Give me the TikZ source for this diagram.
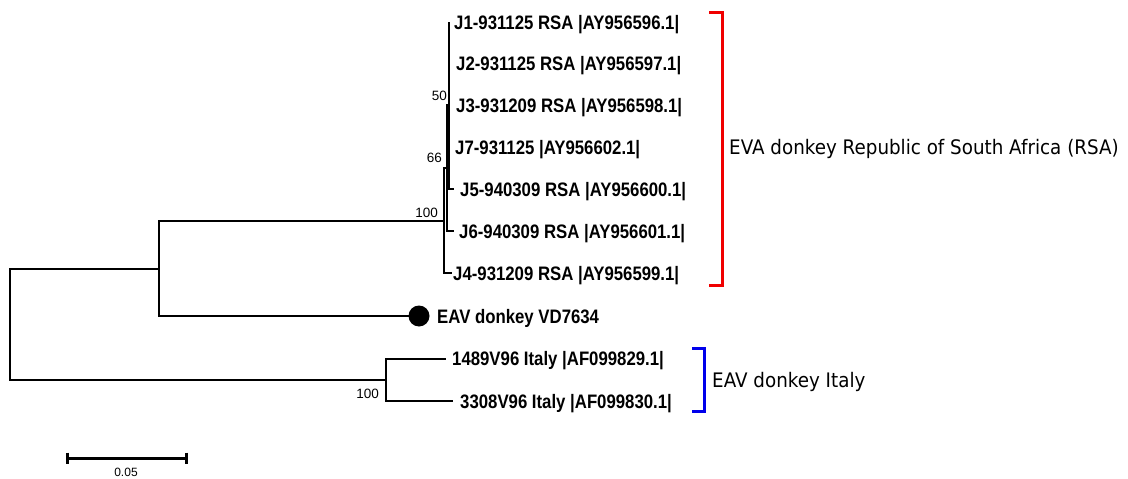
\documentclass[tikz,border=0pt]{standalone}
\usepackage{fontspec}
\setmainfont{Liberation Sans}
\newfontfamily\dvfont{DejaVu Sans}
\newcommand\tiplab[1]{\scalebox{0.86}[1]{#1}}
\newcommand\cladelab[1]{\scalebox{0.915}[1]{#1}}
\definecolor{bred}{RGB}{240,0,0}
\definecolor{bblue}{RGB}{0,0,235}
\tikzset{
  br/.style={draw=black, line width=2pt, line cap=rect},
  tiptext/.style={anchor=base west, inner sep=0pt, font=\fontsize{19.5}{20}\selectfont\bfseries},
  boot/.style={anchor=base east, inner sep=0pt, font=\fontsize{13.5}{14}\selectfont},
  cladetext/.style={anchor=base west, inner sep=0pt, font=\dvfont\fontsize{20}{22}\selectfont},
  bracket/.style={line width=3pt, line cap=rect},
}
\begin{document}
\begin{tikzpicture}[x=1pt,y=-1pt]
\fill[white] (0,0) rectangle (1128,479);
\useasboundingbox (0,0) rectangle (1128,479);
% internal nodes
\coordinate (root) at (10,324.5);
\coordinate (nA) at (159,269);
\coordinate (nI) at (386,380);
\coordinate (n100) at (444,221);
\coordinate (n66) at (447,168);
\coordinate (n50) at (449,105);
% tips
\coordinate (tJ1) at (449,23);
\coordinate (tJ2) at (449,63);
\coordinate (tJ3) at (449,105);
\coordinate (tJ7) at (449,147);
\coordinate (tJ5) at (453,189);
\coordinate (tJ6) at (453,231);
\coordinate (tJ4) at (451,273);
\coordinate (tI1) at (445,359);
\coordinate (tI2) at (452,401);
\node[circle, fill=black, inner sep=0pt, minimum size=21pt] (dot) at (419,316) {};
% branches
\draw[br] (root) |- (nA);
\draw[br] (root) |- (nI);
\draw[br] (nA) |- (n100);
\draw[br] (nA) |- (dot.west);
\draw[br] (n100) |- (n66);
\draw[br] (n100) |- (tJ4);
\draw[br] (n66) |- (n50);
\draw[br] (n66) |- (tJ6);
\draw[br] (n50) |- (tJ1);
\draw[br] (n50) |- (tJ2);
\draw[br] (n50) |- (tJ3);
\draw[br] (n50) |- (tJ7);
\draw[br] (n50) |- (tJ5);
\draw[br] (nI) |- (tI1);
\draw[br] (nI) |- (tI2);
% tip labels
\node[tiptext] (lJ1) at (454,30) {\tiplab{J1-931125 RSA |AY956596.1|}};
\node[tiptext] (lJ2) at (456,70) {\tiplab{J2-931125 RSA |AY956597.1|}};
\node[tiptext] (lJ3) at (456,112) {\tiplab{J3-931209 RSA |AY956598.1|}};
\node[tiptext] (lJ7) at (455,154) {\tiplab{J7-931125 |AY956602.1|}};
\node[tiptext] (lJ5) at (460,196) {\tiplab{J5-940309 RSA |AY956600.1|}};
\node[tiptext] (lJ6) at (459,238) {\tiplab{J6-940309 RSA |AY956601.1|}};
\node[tiptext] (lJ4) at (453,280) {\tiplab{J4-931209 RSA |AY956599.1|}};
\node[tiptext] (lVD) at (437,323) {\tiplab{EAV donkey VD7634}};
\node[tiptext] (lI1) at (452,365) {\tiplab{1489V96 Italy |AF099829.1|}};
\node[tiptext] (lI2) at (460,408) {\tiplab{3308V96 Italy |AF099830.1|}};
% bootstrap values
\node[boot] (b100) at (438,217) {100};
\node[boot] (b66) at (442,162) {66};
\node[boot] (b50) at (447,100) {50};
\node[boot] (bI) at (379,398) {100};
% clade brackets
\coordinate (rT) at (710,12);
\coordinate (rB) at (710,285);
\draw[bracket, bred] (rT) -- ++(12,0) |- (rB);
\node[cladetext] (cR) at (729,154) {\cladelab{EVA donkey Republic of South Africa (RSA)}};
\coordinate (iT) at (693,348);
\coordinate (iB) at (693,411);
\draw[bracket, bblue] (iT) -- ++(11,0) |- (iB);
\node[cladetext] (cI) at (712,387) {\cladelab{EAV donkey Italy}};
% scale bar
\coordinate (sL) at (67,458);
\coordinate (sR) at (186,458);
\draw[line width=3pt] (sL) -- (sR);
\draw[line width=3pt] (sL) ++(0,-5.5) -- ++(0,11);
\draw[line width=3pt] (sR) ++(0,-5.5) -- ++(0,11);
\node[anchor=base, inner sep=0pt, font=\fontsize{12}{13}\selectfont] (sT) at (126,476) {0.05};
\end{tikzpicture}
\end{document}
